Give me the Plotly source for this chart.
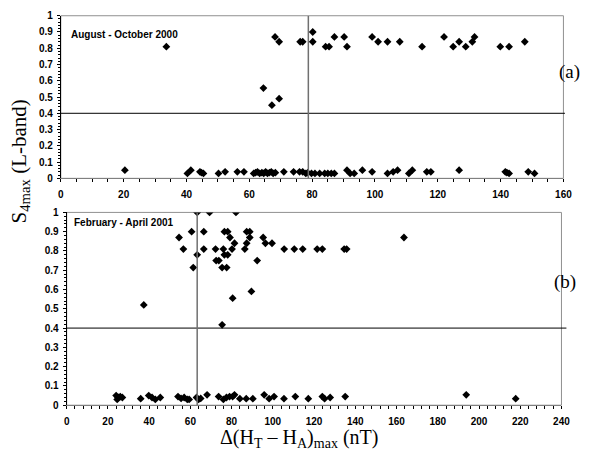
import plotly.graph_objects as go

# ---------------- data ----------------
# Panel (a): August - October 2000
xa_high = [33.6, 64.5, 67.2, 68.2, 69.5, 69.5, 76.2, 77.0, 80.2, 80.2, 84.3, 85.4,
           87.1, 90.2, 91.1, 99.1, 101.0, 104.0, 107.9, 115.0, 122.0, 124.9, 126.8,
           128.9, 131.0, 131.7, 139.9, 142.7, 147.7]
ya_high = [0.81, 0.555, 0.45, 0.87, 0.84, 0.49, 0.84, 0.84, 0.90, 0.84, 0.81, 0.81,
           0.87, 0.87, 0.81, 0.87, 0.84, 0.84, 0.84, 0.81, 0.87, 0.81, 0.84,
           0.81, 0.84, 0.87, 0.81, 0.81, 0.84]
xa_low = [20.4, 40.3, 41.4, 44.3, 44.8, 45.4, 50.2, 52.3, 56.2, 58.3, 61.4, 62.0,
          62.6, 63.3, 64.0, 64.6, 65.2, 65.8, 66.4, 67.0, 67.6, 68.3, 71.0, 74.1,
          76.0, 77.0, 78.0, 78.6, 79.8, 80.9, 82.4, 84.0, 85.0, 86.1, 87.1, 91.1,
          92.1, 93.4, 96.0, 99.1, 104.0, 105.8, 107.2, 110.8, 111.9, 116.5, 117.8,
          126.8, 141.5, 142.0, 142.7, 148.8, 150.8]
ya_low = [0.05, 0.03, 0.05, 0.04, 0.035, 0.03, 0.03, 0.04, 0.04, 0.04, 0.03, 0.035,
          0.04, 0.03, 0.035, 0.03, 0.04, 0.03, 0.035, 0.04, 0.03, 0.035, 0.04, 0.04,
          0.04, 0.04, 0.03, 0.035, 0.03, 0.03, 0.03, 0.03, 0.03, 0.03, 0.03, 0.05,
          0.03, 0.03, 0.05, 0.04, 0.03, 0.04, 0.05, 0.03, 0.05, 0.04, 0.04,
          0.05, 0.04, 0.035, 0.03, 0.04, 0.03]

# Panel (b): February - April 2001
xb_high = [37.4, 54.5, 56.6, 60.6, 61.4, 63.3, 63.3, 66.5, 66.5, 69.3, 72.2, 72.5,
           73.8, 75.4, 76.0, 75.4, 76.5, 78.1, 76.5, 78.1, 77.6, 79.2, 80.2, 80.5,
           81.4, 82.1, 86.4, 87.3, 87.3, 88.8, 88.8, 89.6, 92.4, 95.3, 96.4, 99.6,
           105.5, 110.4, 114.5, 121.5, 124.0, 134.6, 135.8, 163.6]
yb_high = [0.52, 0.87, 0.81, 0.90, 0.714, 0.78, 1.0, 0.90, 0.81, 1.0, 0.81, 0.75,
           0.75, 0.714, 0.81, 0.417, 0.90, 0.90, 0.78, 0.78, 0.714, 0.87, 0.81, 0.555,
           0.84, 1.0, 0.81, 0.84, 0.90, 0.90, 0.87, 0.59, 0.75, 0.87, 0.84, 0.84,
           0.81, 0.81, 0.81, 0.81, 0.81, 0.81, 0.81, 0.87]
xb_low = [24.0, 24.5, 25.0, 26.0, 27.0, 35.9, 39.8, 41.4, 43.0, 45.4, 54.0, 55.5,
          57.0, 58.5, 59.4, 63.0, 64.0, 65.0, 68.1, 73.7, 76.0, 77.5, 79.0, 80.5,
          81.4, 84.0, 87.1, 90.3, 95.8, 98.2, 100.6, 105.4, 110.9, 117.2, 124.0,
          125.1, 127.8, 135.1, 193.8, 217.8]
yb_low = [0.05, 0.03, 0.04, 0.045, 0.04, 0.034, 0.05, 0.04, 0.03, 0.04, 0.045, 0.035,
          0.04, 0.03, 0.03, 0.04, 0.03, 0.035, 0.054, 0.045, 0.03, 0.04, 0.045, 0.045,
          0.054, 0.034, 0.034, 0.034, 0.054, 0.034, 0.045, 0.034, 0.045, 0.034, 0.045,
          0.034, 0.04, 0.045, 0.054, 0.034]

threshold_s4 = 0.4
threshold_a = 78.8
threshold_b = 63.3

yticks = [0, 0.1, 0.2, 0.3, 0.4, 0.5, 0.6, 0.7, 0.8, 0.9, 1]
ytick_labels = ["0", "0.1", "0.2", "0.3", "0.4", "0.5", "0.6", "0.7", "0.8", "0.9", "1"]

W, H = 593, 456

def px_x(p):
    return p / W

def px_y(p):
    return 1 - p / H

fig = go.Figure()

mk = dict(symbol="diamond", size=6, color="black")
fig.add_trace(go.Scatter(x=xa_high + xa_low, y=ya_high + ya_low, mode="markers",
                         marker=mk, xaxis="x", yaxis="y", showlegend=False))
fig.add_trace(go.Scatter(x=xb_high + xb_low, y=yb_high + yb_low, mode="markers",
                         marker=mk, xaxis="x2", yaxis="y2", showlegend=False))

tickfont = dict(family="Liberation Sans", size=10, color="black", weight="bold")

common_x = dict(showgrid=False, zeroline=False, showline=True, linecolor="#808080",
                linewidth=1, ticks="outside", ticklen=3, tickcolor="black",
                tickfont=tickfont, ticklabelstandoff=4)
common_y = dict(showgrid=False, zeroline=False, showline=True, linecolor="black",
                linewidth=1, ticks="outside", ticklen=3, tickcolor="black",
                tickfont=tickfont, tickvals=yticks, ticktext=ytick_labels,
                range=[0, 1], ticklabelstandoff=2,
                minor=dict(dtick=0.02, ticks="outside", ticklen=2, tickcolor="black"))

fig.update_layout(
    width=W, height=H, margin=dict(l=0, r=0, t=0, b=0),
    paper_bgcolor="white", plot_bgcolor="white",
    xaxis=dict(**common_x, domain=[px_x(59), px_x(572)], range=[0, 160], dtick=20,
               anchor="y", minor=dict(dtick=5, ticks="outside", ticklen=3, tickcolor="black")),
    yaxis=dict(**common_y, domain=[px_y(177), px_y(10)], anchor="x"),
    xaxis2=dict(**common_x, domain=[px_x(65), px_x(570)], range=[0, 240], dtick=20,
                anchor="y2", minor=dict(dtick=4, ticks="outside", ticklen=3, tickcolor="black")),
    yaxis2=dict(**common_y, domain=[px_y(410), px_y(212)], anchor="x2"),
)

shapes = []
# frames (gray border)
for xr, yr in (("x", "y"), ("x2", "y2")):
    shapes.append(dict(type="rect", xref=xr + " domain", yref=yr + " domain",
                       x0=0, x1=1, y0=0, y1=1, line=dict(color="#909090", width=1),
                       layer="below"))
# threshold lines
shapes.append(dict(type="line", xref="x domain", yref="y", x0=0, x1=1.003,
                   y0=threshold_s4, y1=threshold_s4, line=dict(color="black", width=1)))
shapes.append(dict(type="line", xref="x2 domain", yref="y2", x0=0, x1=1.01,
                   y0=threshold_s4, y1=threshold_s4, line=dict(color="black", width=1)))
shapes.append(dict(type="line", xref="x", yref="y", x0=threshold_a, x1=threshold_a,
                   y0=0, y1=1, line=dict(color="#707070", width=1.5)))
shapes.append(dict(type="line", xref="x2", yref="y2", x0=threshold_b, x1=threshold_b,
                   y0=0, y1=1, line=dict(color="#707070", width=1.5)))
fig.update_layout(shapes=shapes)

serif = "Liberation Serif"
ann = [
    dict(text="August - October 2000", x=px_x(67), y=px_y(29), xanchor="left",
         yanchor="middle", font=dict(family="Liberation Sans", size=10, color="black",
                                     weight="bold")),
    dict(text="February - April 2001", x=px_x(70), y=px_y(222), xanchor="left",
         yanchor="middle", font=dict(family="Liberation Sans", size=10, color="black",
                                     weight="bold")),
    dict(text="(a)", x=px_x(578), y=px_y(68), xanchor="center", yanchor="middle",
         font=dict(family=serif, size=19, color="black")),
    dict(text="(b)", x=px_x(574), y=px_y(283), xanchor="center", yanchor="middle",
         font=dict(family=serif, size=19, color="black")),
    dict(text="S<sub>4max</sub> (L-band)", x=px_x(17), y=px_y(160), textangle=-90,
         xanchor="center", yanchor="middle", font=dict(family=serif, size=21, color="black")),
    dict(text="Δ(H<sub>T</sub> – H<sub>A</sub>)<sub>max</sub> (nT)", x=px_x(302),
         y=px_y(444), xanchor="center", yanchor="middle",
         font=dict(family=serif, size=20, color="black")),
]
for a in ann:
    a.update(xref="paper", yref="paper", showarrow=False)
fig.update_layout(annotations=ann)

fig.write_html("out.html")
